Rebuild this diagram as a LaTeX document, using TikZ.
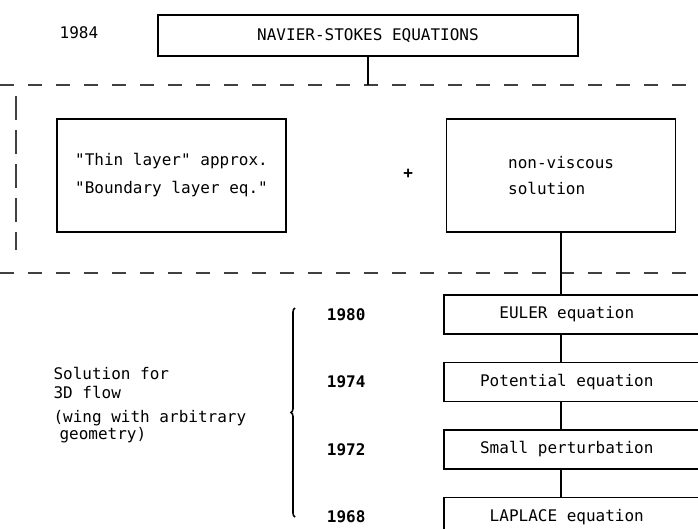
\documentclass[tikz,border=0pt]{standalone}
\usepackage{fontspec}
\setmonofont{DejaVu Sans Mono}
\usetikzlibrary{positioning, decorations.pathreplacing}
\tikzset{
	mainbox/.style ={rectangle, draw=black, line width=2.6pt, minimum width=420pt, minimum height=41pt, inner sep=0pt},
	bigbox/.style  ={rectangle, draw=black, line width=1.6pt, minimum width=229pt, minimum height=113pt, align=left, inner sep=0pt},
	stage/.style   ={rectangle, draw=black, line width=1.6pt, minimum width=262pt, minimum height=39pt, inner sep=0pt, execute at end node=\hspace*{16pt}},
	yearlbl/.style ={font=\ttfamily\fontsize{16}{19}\selectfont\bfseries},
	link/.style    ={line width=1.6pt},
	zone/.style    ={line width=1.2pt, draw=black!75, dash pattern=on 14pt off 14pt},
	bracket/.style ={line width=1.6pt, decorate, decoration={brace, amplitude=4pt}},
}
\begin{document}
\begin{tikzpicture}[x=1pt, y=1pt, font=\ttfamily\fontsize{16}{19}\selectfont, node distance=27pt]
	\useasboundingbox (0,0) rectangle (698,-528);
	\clip (0,0) rectangle (698,-528);
	\node[mainbox] (ns) at (368,-35.5) {NAVIER-STOKES EQUATIONS};
	\node (y84) at (79,-33) {1984};
	\coordinate (top) at (368,-85);
	\draw[zone] (0,-85) -- (698,-85);
	\draw[zone] (0,-273) -- (698,-273);
	\draw[zone, dash pattern=on 24pt off 10pt] (16,-96) -- (16,-250);
	\node[bigbox] (thin) at (171.5,-175.5) {"Thin layer" approx.\\[9pt]"Boundary layer eq."};
	\node[bigbox, right=159pt of thin] (inv) {non-viscous\\[7pt]solution};
	\node[yearlbl, right=113pt of thin, yshift=2pt] (plus) {+};
	\node[stage, anchor=north west] (euler) at (443,-294) {EULER equation};
	\node[stage, below=of euler] (pot) {Potential equation};
	\node[stage, below=of pot] (small) {Small perturbation};
	\node[stage, below=of small] (lap) {LAPLACE equation};
	\node[yearlbl, left=74pt of euler] (y80) {1980};
	\node[yearlbl, left=74pt of pot] (y74) {1974};
	\node[yearlbl, left=74pt of small] (y72) {1972};
	\node[yearlbl, left=74pt of lap] (y68) {1968};
	\node[align=left, anchor=north west] (flow) at (50,-363.5) {Solution for\\3D flow\\[5pt](wing with arbitrary\\[-2pt]\hspace*{6pt}geometry)};
	\draw[link] (ns.south) -- (top);
	\draw[link] (inv.south) -- (inv.south |- euler.north);
	\draw[link] (inv.south |- euler.south) -- (inv.south |- pot.north);
	\draw[link] (inv.south |- pot.south) -- (inv.south |- small.north);
	\draw[link] (inv.south |- small.south) -- (inv.south |- lap.north);
	\draw[bracket] (295,-517) -- (295,-308);
\end{tikzpicture}
\end{document}
